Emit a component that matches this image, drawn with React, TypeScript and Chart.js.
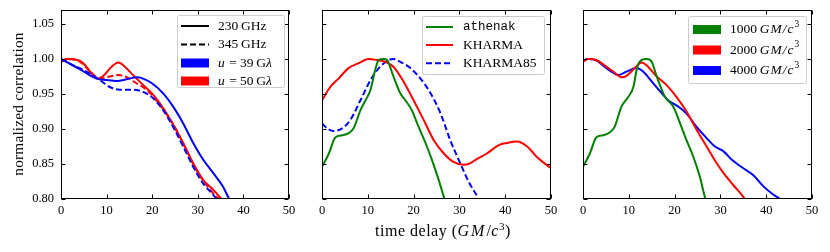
import React, { useEffect, useRef } from "react";
import { Chart, registerables } from "chart.js";
Chart.register(...registerables);

const FONT = "'Liberation Serif', 'Times New Roman', serif";
const MONO = "'Liberation Mono', 'DejaVu Sans Mono', monospace";
const FS = 12.5;
const LFS = 13.5;
const TFS = 16;

const X_TICKS = [0, 10, 20, 30, 40, 50];
const Y_MIN = 0.8;
const Y_MAX = 1.07;
const Y_STEP = 0.05;

// ---------- Panel 1 ----------
const p1_230_u39_t = [0, 2, 4, 6, 7.8, 10, 12.2, 14.4, 16.6, 18, 20, 22.4, 24.6, 26.8, 29, 31.2, 33.4, 35.5, 36.9, 37.5];
const p1_230_u39_v = [1.0, 0.993, 0.986, 0.978, 0.972, 0.97, 0.9686, 0.971, 0.974, 0.972, 0.965, 0.951, 0.932, 0.908, 0.88, 0.856, 0.837, 0.818, 0.8, 0.795];
const p1_230_u50_t = [0, 1.2, 3.4, 4.9, 6.4, 8, 9.3, 11.1, 12.6, 14, 15.8, 18, 20.2, 22.4, 24.6, 26.8, 29, 31.2, 33.4, 35.2, 36];
const p1_230_u50_v = [0.996, 1.0, 0.999, 0.994, 0.982, 0.972, 0.976, 0.989, 0.995, 0.989, 0.977, 0.963, 0.949, 0.93, 0.906, 0.88, 0.851, 0.827, 0.813, 0.8, 0.794];
const p1_345_u39_t = [0, 2.7, 5.6, 8.5, 10.7, 12.9, 15.8, 18, 20.2, 22.4, 24.6, 26.8, 29, 31.2, 33.4, 34.1, 35];
const p1_345_u39_v = [1.0, 0.991, 0.982, 0.97, 0.96, 0.956, 0.956, 0.953, 0.944, 0.927, 0.903, 0.875, 0.846, 0.822, 0.806, 0.8, 0.794];
const p1_345_u50_t = [0, 2, 4.2, 6.4, 8.5, 10.7, 12.6, 14.4, 16.6, 18.8, 20.9, 23.1, 25.3, 27.5, 29.7, 31.9, 34.1, 34.7, 35.5];
const p1_345_u50_v = [0.996, 1.0, 0.996, 0.982, 0.972, 0.975, 0.977, 0.974, 0.965, 0.956, 0.941, 0.922, 0.899, 0.87, 0.841, 0.82, 0.803, 0.8, 0.795];

// ---------- Panel 2 ----------
const p2_athenak_t = [0, 1.5, 2.9, 4.4, 5.8, 6.9, 8.4, 9.5, 10.6, 11.6, 12.4, 13.5, 14.2, 15.6, 17.1, 18.2, 19.6, 21.1, 22.6, 24, 25.5, 26.6, 27.2];
const p2_athenak_v = [0.846, 0.865, 0.888, 0.891, 0.894, 0.901, 0.927, 0.941, 0.956, 0.984, 0.9986, 1.0, 0.9986, 0.975, 0.951, 0.941, 0.927, 0.903, 0.88, 0.856, 0.827, 0.803, 0.79];
const p2_kharma_t = [0, 1.8, 3.6, 5.8, 8, 10.2, 12, 13.8, 15.6, 17.8, 20, 22.2, 24.4, 26.6, 28.7, 30.9, 32, 33.8, 36, 38.6, 40.4, 42.6, 44.8, 46.9, 50];
const p2_kharma_v = [0.941, 0.96, 0.972, 0.987, 0.994, 1.0, 0.9986, 0.996, 0.989, 0.968, 0.941, 0.913, 0.884, 0.865, 0.853, 0.849, 0.85, 0.857, 0.865, 0.877, 0.88, 0.882, 0.875, 0.86, 0.844];
const p2_kharma85_t = [0, 1.1, 2.5, 4.4, 6.2, 8.4, 10.6, 12.7, 14.6, 15.6, 17.1, 19.3, 21.5, 23.7, 25.9, 28, 30.2, 32, 33.8];
const p2_kharma85_v = [0.908, 0.901, 0.897, 0.901, 0.913, 0.941, 0.97, 0.989, 0.9986, 1.0, 0.996, 0.987, 0.972, 0.951, 0.922, 0.884, 0.851, 0.825, 0.805];

// ---------- Panel 3 ----------
const p3_1000_t = [0, 1.5, 2.9, 4.4, 5.8, 6.9, 8.4, 9.9, 11, 11.8, 12.8, 13.9, 15, 16.1, 17.9, 19.7, 21.2, 22.6, 24.1, 25.5, 26.6, 27.2];
const p3_1000_v = [0.846, 0.865, 0.888, 0.891, 0.895, 0.903, 0.932, 0.946, 0.96, 0.987, 0.9986, 1.0, 0.996, 0.975, 0.946, 0.932, 0.908, 0.884, 0.86, 0.832, 0.803, 0.79];
const p3_2000_t = [0, 1.1, 2.9, 4.7, 6.6, 8.4, 9.5, 11.3, 12.8, 14.2, 16.1, 18.2, 20.4, 22.6, 24.8, 27, 29.2, 30.7, 32.8, 35, 35.6];
const p3_2000_v = [0.996, 1.0, 0.9986, 0.991, 0.982, 0.974, 0.976, 0.987, 0.995, 0.989, 0.975, 0.963, 0.946, 0.925, 0.899, 0.875, 0.851, 0.837, 0.82, 0.803, 0.797];
const p3_4000_t = [0, 1.1, 2.9, 4.7, 6.2, 7.7, 9.5, 11.7, 13.1, 15, 16.8, 18.6, 20.8, 22.6, 24.8, 27, 28.8, 30.7, 32.5, 35, 37.2, 39.4, 41.6, 43.1, 43.6];
const p3_4000_v = [0.998, 1.0, 0.998, 0.989, 0.982, 0.977, 0.982, 0.987, 0.982, 0.968, 0.954, 0.941, 0.932, 0.922, 0.903, 0.887, 0.875, 0.868, 0.856, 0.844, 0.834, 0.818, 0.806, 0.8, 0.797];

const BLUE = "#0000ff";
const RED = "#ff0000";
const GREEN = "#008000";

type Seg = { t: string; s?: "i" | "m" | "sup" };
type LegendItem = { kind: "line" | "dash" | "patch"; color: string; segs: Seg[] };
type LegendSpec = { x: number; y: number; w: number; h: number; rows: number[]; hx: number; hw: number; tx: number; items: LegendItem[] };

function pts(t: number[], v: number[]) {
  return t.map((x, i) => ({ x, y: v[i] }));
}

function drawRich(ctx: CanvasRenderingContext2D, segs: Seg[], x: number, y: number) {
  let cx = x;
  ctx.textBaseline = "middle";
  ctx.textAlign = "left";
  for (const seg of segs) {
    let dy = 0;
    if (seg.s === "i") {
      ctx.font = `italic ${LFS}px ${FONT}`;
      for (const ch of seg.t) {
        ctx.fillText(ch, cx, y);
        cx += ctx.measureText(ch).width + 1;
      }
      continue;
    }
    if (seg.s === "m") ctx.font = `${LFS - 1}px ${MONO}`;
    else if (seg.s === "sup") {
      ctx.font = `${LFS * 0.7}px ${FONT}`;
      dy = -LFS * 0.38;
    } else ctx.font = `${LFS}px ${FONT}`;
    ctx.fillText(seg.t, cx, y + dy);
    cx += ctx.measureText(seg.t).width;
  }
}

const framePlugin = {
  id: "frame",
  afterDatasetsDraw(chart: any) {
    const { ctx, chartArea: a, scales } = chart;
    const L = Math.round(a.left) + 0.5;
    const R = Math.round(a.right) - 0.5;
    const T = Math.round(a.top) + 0.5;
    const B = Math.round(a.bottom) - 0.5;
    ctx.save();
    ctx.strokeStyle = "#000";
    ctx.lineWidth = 1;
    ctx.beginPath();
    const tl = 4;
    for (const tk of scales.x.ticks) {
      const px = Math.round(scales.x.getPixelForValue(tk.value)) + 0.5;
      ctx.moveTo(px, B);
      ctx.lineTo(px, B - tl);
      ctx.moveTo(px, T);
      ctx.lineTo(px, T + tl);
    }
    for (const tk of scales.y.ticks) {
      const py = Math.round(scales.y.getPixelForValue(tk.value)) + 0.5;
      ctx.moveTo(L, py);
      ctx.lineTo(L + tl, py);
      ctx.moveTo(R, py);
      ctx.lineTo(R - tl, py);
    }
    ctx.stroke();
    ctx.strokeRect(L, T, R - L, B - T);
    ctx.restore();
  },
};

function legendPlugin(spec: LegendSpec) {
  return {
    id: "customLegend",
    afterDraw(chart: any) {
      const ctx: CanvasRenderingContext2D = chart.ctx;
      ctx.save();
      ctx.beginPath();
      (ctx as any).roundRect(spec.x + 0.5, spec.y + 0.5, spec.w, spec.h, 2);
      ctx.fillStyle = "rgba(255,255,255,0.8)";
      ctx.fill();
      ctx.strokeStyle = "#cccccc";
      ctx.lineWidth = 1;
      ctx.stroke();
      spec.items.forEach((it, i) => {
        const y = spec.rows[i];
        if (it.kind === "patch") {
          ctx.fillStyle = it.color;
          ctx.fillRect(spec.hx, y - 4.5, spec.hw, 9);
        } else {
          ctx.strokeStyle = it.color;
          ctx.lineWidth = 2;
          ctx.setLineDash(it.kind === "dash" ? [6, 3] : []);
          ctx.beginPath();
          ctx.moveTo(spec.hx, y);
          ctx.lineTo(spec.hx + spec.hw, y);
          ctx.stroke();
          ctx.setLineDash([]);
        }
        ctx.fillStyle = "#000";
        drawRich(ctx, it.segs, spec.tx, y);
      });
      ctx.restore();
    },
  };
}

type DS = { t: number[]; v: number[]; color: string; dash?: boolean };

function buildConfig(datasets: DS[], yLabels: boolean, yWidth: number, rightPad: number, legend: LegendSpec) {
  return {
    type: "line" as const,
    data: {
      datasets: datasets.map((d) => ({
        data: pts(d.t, d.v),
        borderColor: d.color,
        borderWidth: 2,
        borderDash: d.dash ? [6, 3] : [],
        pointRadius: 0,
        fill: false,
        cubicInterpolationMode: "monotone" as const,
      })),
    },
    options: {
      responsive: false,
      animation: false as const,
      devicePixelRatio: 1,
      layout: { padding: { top: 10, right: rightPad, left: 0, bottom: 0 } },
      plugins: { legend: { display: false }, tooltip: { enabled: false } },
      scales: {
        x: {
          type: "linear" as const,
          min: 0,
          max: 50,
          afterBuildTicks: (s: any) => {
            s.ticks = X_TICKS.map((value) => ({ value }));
          },
          ticks: { color: "#000", font: { family: FONT, size: FS }, padding: 4, maxRotation: 0 },
          grid: { display: true, drawOnChartArea: false, drawTicks: false },
          border: { display: false },
          afterFit: (s: any) => {
            s.height = 53;
            s.paddingLeft = 0;
            s.paddingRight = 0;
          },
        },
        y: {
          type: "linear" as const,
          min: Y_MIN,
          max: Y_MAX,
          ticks: {
            display: yLabels,
            stepSize: Y_STEP,
            includeBounds: false,
            color: "#000",
            font: { family: FONT, size: FS },
            padding: 7,
            callback: (v: any) => Number(v).toFixed(2),
          },
          grid: { display: true, drawOnChartArea: false, drawTicks: false },
          border: { display: false },
          afterFit: (s: any) => {
            s.width = yWidth;
            s.paddingTop = 0;
            s.paddingBottom = 0;
          },
        },
      },
    },
    plugins: [framePlugin, legendPlugin(legend)],
  };
}

function Panel(props: { left: number; width: number; cfg: any }) {
  const ref = useRef<HTMLCanvasElement>(null);
  useEffect(() => {
    const chart = new Chart(ref.current as HTMLCanvasElement, props.cfg);
    return () => chart.destroy();
  }, []);
  return (
    <canvas
      ref={ref}
      width={props.width}
      height={252}
      style={{ position: "absolute", left: props.left, top: 0, width: props.width, height: 252 }}
    />
  );
}

const legend1: LegendSpec = {
  x: 177, y: 15, w: 107, h: 72, rows: [26, 44.5, 63, 81], hx: 181, hw: 28, tx: 218,
  items: [
    { kind: "line", color: "#000", segs: [{ t: "230\u2009GHz" }] },
    { kind: "dash", color: "#000", segs: [{ t: "345\u2009GHz" }] },
    { kind: "patch", color: BLUE, segs: [{ t: "u", s: "i" }, { t: " = 39\u2009G" }, { t: "λ", s: "i" }] },
    { kind: "patch", color: RED, segs: [{ t: "u", s: "i" }, { t: " = 50\u2009G" }, { t: "λ", s: "i" }] },
  ],
};
const legend2: LegendSpec = {
  x: 122, y: 16, w: 122, h: 58, rows: [27, 45, 63.3], hx: 126, hw: 27, tx: 163,
  items: [
    { kind: "line", color: GREEN, segs: [{ t: "athenak", s: "m" }] },
    { kind: "line", color: RED, segs: [{ t: "KHARMA" }] },
    { kind: "dash", color: BLUE, segs: [{ t: "KHARMA85" }] },
  ],
};
const legend3: LegendSpec = {
  x: 128, y: 16, w: 118, h: 67, rows: [29.5, 50, 70.5], hx: 133, hw: 28, tx: 170,
  items: [
    { kind: "patch", color: GREEN, segs: [{ t: "1000\u2009" }, { t: "GM/c", s: "i" }, { t: "3", s: "sup" }] },
    { kind: "patch", color: RED, segs: [{ t: "2000\u2009" }, { t: "GM/c", s: "i" }, { t: "3", s: "sup" }] },
    { kind: "patch", color: BLUE, segs: [{ t: "4000\u2009" }, { t: "GM/c", s: "i" }, { t: "3", s: "sup" }] },
  ],
};

const cfg1 = buildConfig(
  [
    { t: p1_230_u39_t, v: p1_230_u39_v, color: BLUE },
    { t: p1_345_u39_t, v: p1_345_u39_v, color: BLUE, dash: true },
    { t: p1_230_u50_t, v: p1_230_u50_v, color: RED },
    { t: p1_345_u50_t, v: p1_345_u50_v, color: RED, dash: true },
  ],
  true, 61, 11, legend1
);
const cfg2 = buildConfig(
  [
    { t: p2_athenak_t, v: p2_athenak_v, color: GREEN },
    { t: p2_kharma_t, v: p2_kharma_v, color: RED },
    { t: p2_kharma85_t, v: p2_kharma85_v, color: BLUE, dash: true },
  ],
  false, 22, 9, legend2
);
const cfg3 = buildConfig(
  [
    { t: p3_1000_t, v: p3_1000_v, color: GREEN },
    { t: p3_2000_t, v: p3_2000_v, color: RED },
    { t: p3_4000_t, v: p3_4000_v, color: BLUE },
  ],
  false, 23, 18, legend3
);

export default function App() {
  return (
    <div style={{ position: "fixed", left: 0, top: 0, width: 830, height: 252, background: "#fff", overflow: "hidden" }}>
      <Panel left={0} width={300} cfg={cfg1} />
      <Panel left={300} width={260} cfg={cfg2} />
      <Panel left={560} width={270} cfg={cfg3} />
      <div
        style={{
          position: "absolute", left: -81, top: 94, width: 200, height: 20, lineHeight: "20px",
          textAlign: "center", transform: "rotate(-90deg)", font: `15.3px ${FONT}`, color: "#000",
          letterSpacing: "0.2px",
        }}
      >
        normalized correlation
      </div>
      <div
        style={{
          position: "absolute", left: 343, top: 222, width: 200, height: 22, lineHeight: "22px",
          textAlign: "center", font: `${TFS}px ${FONT}`, color: "#000", letterSpacing: "0.5px", whiteSpace: "nowrap",
        }}
      >
        time delay (<i style={{ letterSpacing: "2px" }}>GM</i>/<i>c</i>
        <span style={{ fontSize: TFS * 0.7, position: "relative", top: -6 }}>3</span>)
      </div>
    </div>
  );
}
